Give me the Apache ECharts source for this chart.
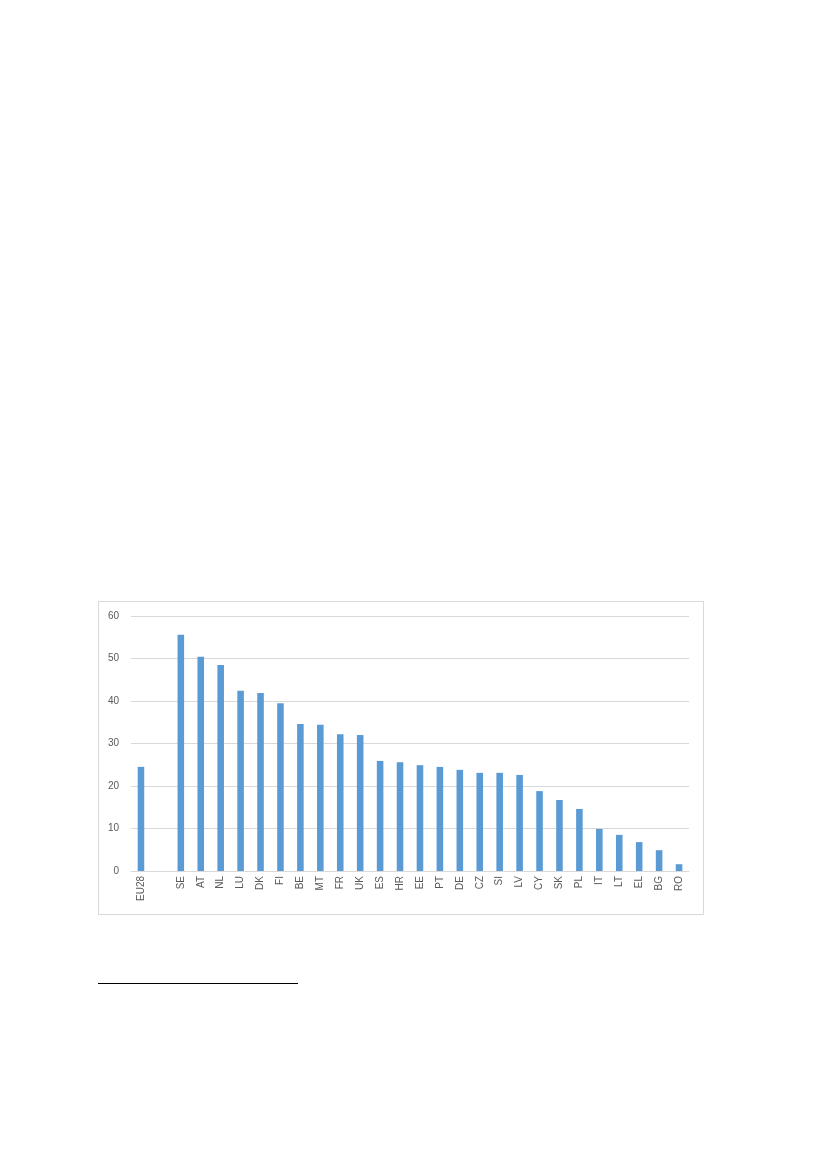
<!DOCTYPE html>
<html>
<head>
<meta charset="utf-8">
<script src="https://cdn.jsdelivr.net/npm/echarts@6/dist/echarts.min.js"></script>
<style>
  html, body { margin: 0; padding: 0; background: #fff; }
  #box {
    position: absolute; left: 98px; top: 601px;
    width: 604px; height: 312px;
    border: 1px solid #d9d9d9;
  }
  #chart { width: 604px; height: 312px; }
  #rule {
    position: absolute; left: 98px; top: 983px;
    width: 200px; height: 0; border-top: 1px solid #000;
  }
</style>
</head>
<body>
<div id="box"><div id="chart"></div></div>
<div id="rule"></div>
<script>
  // 国家代码（第二项为空位）
  var countries = ['EU28', '', 'SE', 'AT', 'NL', 'LU', 'DK', 'FI', 'BE', 'MT', 'FR', 'UK', 'ES', 'HR',
    'EE', 'PT', 'DE', 'CZ', 'SI', 'LV', 'CY', 'SK', 'PL', 'IT', 'LT', 'EL', 'BG', 'RO'];
  // 数值
  var values = [24.5, null, 55.6, 50.4, 48.5, 42.4, 41.9, 39.5, 34.6, 34.4, 32.2, 32.0, 25.9, 25.6,
    24.9, 24.5, 23.8, 23.1, 23.1, 22.6, 18.8, 16.7, 14.6, 9.9, 8.5, 6.8, 4.9, 1.6];
  var yTicks = [0, 10, 20, 30, 40, 50, 60];

  var myChart = echarts.init(document.getElementById('chart'));
  var option = {
    animation: false,
    grid: { left: 32, right: 14, top: 14, bottom: 43 },
    xAxis: {
      type: 'category',
      data: countries,
      axisLine: { lineStyle: { color: '#d9d9d9', width: 1 } },
      axisTick: { show: false },
      axisLabel: {
        rotate: 90,
        interval: 0,
        color: '#595959',
        fontFamily: 'Liberation Sans',
        fontSize: 10,
        margin: 5
      }
    },
    yAxis: {
      type: 'value',
      min: yTicks[0],
      max: yTicks[yTicks.length - 1],
      interval: 10,
      axisLine: { show: false },
      axisTick: { show: false },
      splitLine: { lineStyle: { color: '#d9d9d9', width: 1 } },
      axisLabel: {
        color: '#595959',
        fontFamily: 'Liberation Sans',
        fontSize: 10,
        margin: 12
      }
    },
    series: [{
      type: 'bar',
      data: values,
      barWidth: '33%',
      itemStyle: { color: '#5b9bd5' }
    }]
  };
  myChart.setOption(option);
</script>
</body>
</html>
